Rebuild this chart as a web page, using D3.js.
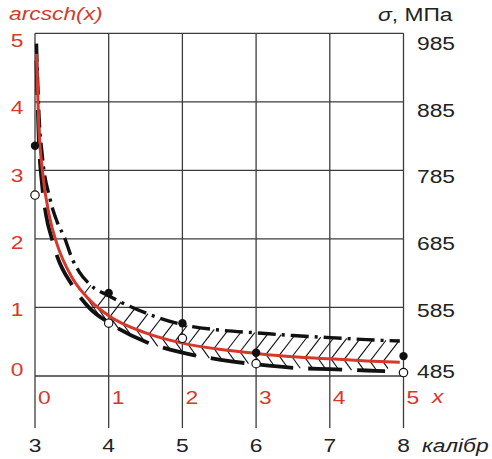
<!DOCTYPE html>
<html>
<head>
<meta charset="utf-8">
<script src="https://cdn.jsdelivr.net/npm/d3@7"></script>
<style>
  html, body { margin: 0; padding: 0; background: #fff; overflow: hidden; }
  text { font-family: "Liberation Sans", Arial, sans-serif; }
</style>
</head>
<body>
<svg id="chart" width="492" height="459"></svg>
<script>
// values
const redX = [0.02, 0.05, 0.1, 0.2, 0.3, 0.5, 0.75, 1, 1.5, 2, 2.5, 3, 3.5, 4, 4.5, 4.95];
const redY = [4.7, 3.69, 3.0, 2.31, 1.92, 1.44, 1.1, 0.88, 0.63, 0.48, 0.39, 0.33, 0.28, 0.25, 0.22, 0.2];

const upperX = [0.02, 0.05, 0.1, 0.2, 0.3, 0.4, 0.5, 0.6, 0.75, 1, 1.5, 2, 2.5, 3, 3.5, 4, 4.5, 4.95];
const upperY = [4.85, 3.9, 3.2, 2.6, 2.25, 2.02, 1.72, 1.52, 1.33, 1.17, 0.92, 0.75, 0.67, 0.63, 0.59, 0.56, 0.53, 0.51];

const lowerX = [0.02, 0.05, 0.1, 0.15, 0.23, 0.3, 0.5, 0.75, 1, 1.5, 2, 2.5, 3, 3.5, 4, 4.5, 4.75];
const lowerY = [4.6, 3.5, 2.75, 2.35, 2.0, 1.75, 1.33, 0.98, 0.78, 0.5, 0.34, 0.24, 0.17, 0.12, 0.1, 0.08, 0.07];

const filledX = [0, 1, 2, 3, 5];
const filledY = [3.36, 1.21, 0.77, 0.34, 0.29];
const openX = [0, 1, 2, 3, 5];
const openY = [2.64, 0.77, 0.55, 0.18, 0.05];

const arcTicks = [0, 1, 2, 3, 4, 5];
const sigmaTicks = [485, 585, 685, 785, 885, 985];
const xTicks = [0, 1, 2, 3, 4, 5];
const calTicks = [3, 4, 5, 6, 7, 8];

const RED = "#d6382b";
const GRID = "#3c3c3c";

const svg = d3.select("#chart");

const x = d3.scaleLinear().domain([0, 5]).range([35, 403.5]);
const y = d3.scaleLinear().domain([0, 5]).range([376, 33.3]);
const ySigma = d3.scaleLinear().domain([485, 985]).range([376, 33.3]);
const xCal = d3.scaleLinear().domain([3, 8]).range([35, 403.5]);
// tick labels sit slightly inside the frame in the picture
const yLab = d3.scaleLinear().domain([0, 1, 5]).range([369.5, 309.5, 40]);
const sLab = d3.scaleLinear().domain([485, 585, 985]).range([371, 310, 43]);

// grid
svg.append("g").selectAll("line").data(arcTicks).enter().append("line")
  .attr("x1", x(0)).attr("x2", x(5))
  .attr("y1", d => y(d)).attr("y2", d => y(d))
  .attr("stroke", GRID).attr("stroke-width", 1.3);
svg.append("g").selectAll("line").data(xTicks).enter().append("line")
  .attr("x1", d => x(d)).attr("x2", d => x(d))
  .attr("y1", y(5)).attr("y2", 428)
  .attr("stroke", GRID).attr("stroke-width", 1.3);

function label(txt, px, py, opt) {
  opt = opt || {};
  const t = svg.append("text")
    .attr("transform", "translate(" + px + "," + py + ") scale(1.2,1)")
    .attr("font-size", opt.size || 19)
    .attr("fill", opt.color || "#222")
    .attr("text-anchor", opt.anchor || "start")
    .attr("dy", opt.dy || "0.36em")
    .attr("font-style", opt.italic ? "italic" : "normal");
  t.text(txt);
  return t;
}

arcTicks.forEach(d => label(d, 17, yLab(d), {color: RED, anchor: "middle"}));
sigmaTicks.forEach(d => label(d, 417, sLab(d)));
xTicks.forEach(d => label(d, x(d) + 3, 397.5, {color: RED}));
calTicks.forEach(d => label(d, xCal(d), 445.5, {anchor: "middle"}));

label("x", 432, 396.5, {color: RED, italic: true});
label("калібр", 422, 445.5, {italic: true});
label("arcsch(x)", 9, 13, {color: RED, italic: true});
const sig = svg.append("text")
  .attr("transform", "translate(378,14) scale(1.2,1)")
  .attr("font-size", 19).attr("fill", "#222").attr("dy", "0.36em");
sig.append("tspan").attr("font-style", "italic").text("σ");
sig.append("tspan").text(", МПа");

// curves
const line = d3.line().x(d => x(d[0])).y(d => y(d[1])).curve(d3.curveMonotoneX);
const redPts = d3.zip(redX, redY);
const upPts = d3.zip(upperX, upperY);
const loPts = d3.zip(lowerX, lowerY);

const hatchG = svg.append("g");

const upPath = svg.append("path").datum(upPts)
  .attr("d", line).attr("fill", "none").attr("stroke", "#111")
  .attr("stroke-width", 3.4).attr("stroke-dasharray", "18 6 3 6");
const loPath = svg.append("path").datum(loPts)
  .attr("d", line).attr("fill", "none").attr("stroke", "#111")
  .attr("stroke-width", 3.8).attr("stroke-dasharray", "34 15");
const redPath = svg.append("path").datum(redPts)
  .attr("d", line).attr("fill", "none").attr("stroke", RED)
  .attr("stroke-width", 3);

// sample drawn paths so hatch strokes end on the curves
function sampler(path) {
  const node = path.node(), L = node.getTotalLength(), pts = [];
  for (let l = 0; l <= L; l += 0.5) { const p = node.getPointAtLength(l); pts.push([p.x, p.y]); }
  pts.sort((a, b) => a[0] - b[0]);
  return function(px) {
    const i = d3.bisector(p => p[0]).left(pts, px);
    if (i <= 0) return pts[0][1];
    if (i >= pts.length) return pts[pts.length - 1][1];
    const a = pts[i - 1], b = pts[i];
    const t = b[0] === a[0] ? 0 : (px - a[0]) / (b[0] - a[0]);
    return a[1] + t * (b[1] - a[1]);
  };
}
const redAt = sampler(redPath), upAt = sampler(upPath), loAt = sampler(loPath);

const hatch = [];
for (let hx = 84; hx <= 392; hx += 13) {
  const hy = redAt(hx);
  // "/" up to the upper curve
  let ex = hx, ey = hy;
  for (let s = 0; s < 40; s += 0.25) {
    const cx = hx + s, cy = hy - 1.3 * s;
    ex = cx; ey = cy;
    if (cy <= upAt(cx)) break;
  }
  hatch.push([hx, hy, ex, ey]);
  // "\" down to the lower curve
  ex = hx; ey = hy;
  for (let s = 0; s < 22; s += 0.25) {
    const cx = hx + s, cy = hy + 1.4 * s;
    if (cx > 388) break;
    ex = cx; ey = cy;
    if (cy >= loAt(cx)) break;
  }
  hatch.push([hx, hy, ex, ey]);
}
hatchG.selectAll("line").data(hatch).enter().append("line")
  .attr("x1", d => d[0]).attr("y1", d => d[1])
  .attr("x2", d => d[2]).attr("y2", d => d[3])
  .attr("stroke", "#111").attr("stroke-width", 1.1);

// points
svg.append("g").selectAll("circle").data(d3.zip(filledX, filledY)).enter().append("circle")
  .attr("cx", d => x(d[0])).attr("cy", d => y(d[1])).attr("r", 4.2)
  .attr("fill", "#111");
svg.append("g").selectAll("circle").data(d3.zip(openX, openY)).enter().append("circle")
  .attr("cx", d => x(d[0])).attr("cy", d => y(d[1])).attr("r", 4.2)
  .attr("fill", "#fff").attr("stroke", "#111").attr("stroke-width", 1.2);
</script>
</body>
</html>
